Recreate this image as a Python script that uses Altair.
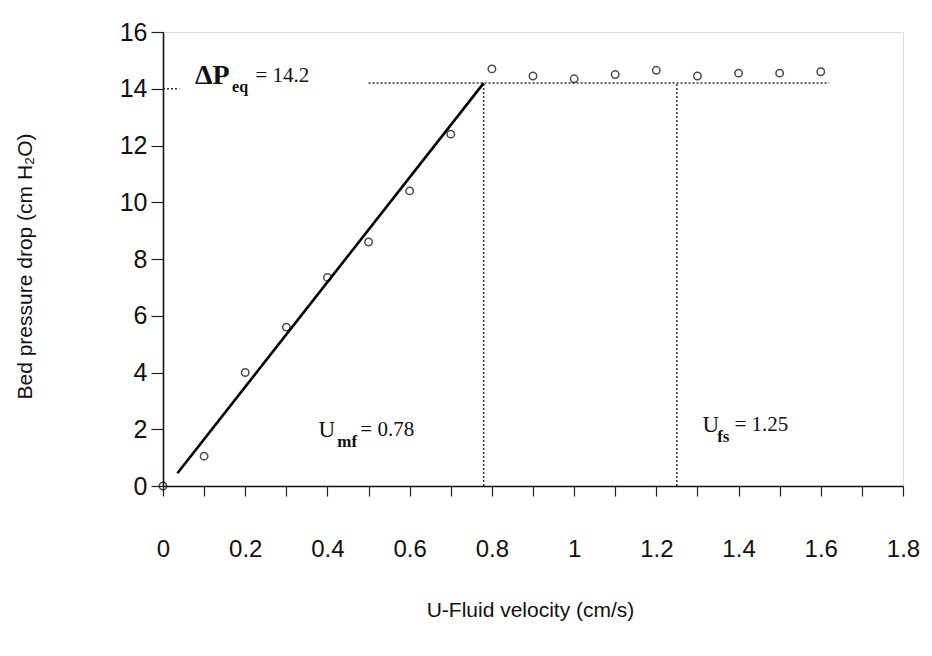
import altair as alt
import pandas as pd

# measured data points
u_vals = [0.0, 0.1, 0.2, 0.3, 0.4, 0.5, 0.6, 0.7, 0.8, 0.9, 1.0, 1.1, 1.2, 1.3, 1.4, 1.5, 1.6]
dp_vals = [0.0, 1.05, 4.0, 5.6, 7.35, 8.6, 10.4, 12.4, 14.7, 14.45, 14.35, 14.5, 14.65, 14.45, 14.55, 14.55, 14.6]

# fitted line for fixed bed
fit_u = [0.035, 0.78]
fit_dp = [0.45, 14.2]

# reference values
dp_eq = 14.2
u_mf = 0.78
u_fs = 1.25

x_ticks = [0, 0.1, 0.2, 0.3, 0.4, 0.5, 0.6, 0.7, 0.8, 0.9, 1.0, 1.1, 1.2, 1.3, 1.4, 1.5, 1.6, 1.7, 1.8]
y_ticks = [0, 2, 4, 6, 8, 10, 12, 14, 16]

# annotation pieces
ann_x = [0.078, 0.168, 0.225, 0.378, 0.424, 0.48, 1.312, 1.348, 1.39]
ann_y = [14.45, 14.05, 14.45, 1.97, 1.55, 1.97, 2.15, 1.72, 2.15]
ann_t = ["\u0394P", "eq", "= 14.2", "U", "mf", "= 0.78", "U", "fs", "= 1.25"]
ann_size = [28, 16, 21, 23, 17, 21, 23, 17, 21]
ann_bold = [True, True, False, False, True, False, False, True, False]

pts = pd.DataFrame({"u": u_vals, "dp": dp_vals})
fit = pd.DataFrame({"u": fit_u, "dp": fit_dp})
hlines = pd.DataFrame({"x1": [0.5, 0.0], "x2": [1.62, 0.04], "y": [dp_eq, 14.0]})
vlines = pd.DataFrame({"x": [u_mf, u_fs], "y1": [0, 0], "y2": [dp_eq, dp_eq]})
ann = pd.DataFrame({"x": ann_x, "y": ann_y, "t": ann_t, "fs": ann_size, "b": ann_bold})

xs = alt.Scale(domain=[0, 1.8], nice=False, zero=False)
ys = alt.Scale(domain=[0, 16], nice=False, zero=False)

x_axis = alt.Axis(
    values=x_ticks, grid=False, tickSize=10, tickColor="#222", tickWidth=1.2,
    domainColor="#111", domainWidth=1.6, format="~g",
    labelExpr="round(datum.value*10) % 2 == 0 ? datum.label : ''",
    labelFont="Liberation Sans", labelFontSize=24, labelColor="#111",
    labelPadding=41, labelFlush=False, labelOverlap=False,
    title="U-Fluid velocity (cm/s)", titleFont="Liberation Sans", titleFontSize=21,
    titleFontWeight="normal", titleColor="#111", titleX=367, titleY=124,
    titleBaseline="middle", titleAlign="center",
)
y_axis = alt.Axis(
    values=y_ticks, grid=False, tickSize=12, tickColor="#222", tickWidth=1.2,
    domainColor="#111", domainWidth=1.6,
    labelFont="Liberation Sans", labelFontSize=25, labelColor="#111",
    labelPadding=4, labelFlush=False,
    title="Bed pressure drop (cm H\u2082O)", titleFont="Liberation Sans", titleFontSize=21,
    titleFontWeight="normal", titleColor="#111", titleX=-138, titleY=234,
    titleAngle=-90, titleBaseline="middle", titleAlign="center",
)

points = alt.Chart(pts).mark_point(shape="circle", filled=False, color="black", size=55, strokeWidth=1.5).encode(
    x=alt.X("u:Q", scale=xs, axis=x_axis),
    y=alt.Y("dp:Q", scale=ys, axis=y_axis),
)

fit_line = alt.Chart(fit).mark_line(color="black", strokeWidth=2.6).encode(
    x=alt.X("u:Q", scale=xs), y=alt.Y("dp:Q", scale=ys)
)

h = alt.Chart(hlines).mark_rule(color="#333", strokeWidth=1.5, strokeDash=[2, 2]).encode(
    x=alt.X("x1:Q", scale=xs), x2="x2:Q", y=alt.Y("y:Q", scale=ys)
)
v = alt.Chart(vlines).mark_rule(color="#333", strokeWidth=1.5, strokeDash=[2, 2]).encode(
    x=alt.X("x:Q", scale=xs), y=alt.Y("y1:Q", scale=ys), y2="y2:Q"
)

def text_layer(bold):
    return alt.Chart(ann).transform_filter(
        "datum.b" if bold else "!datum.b"
    ).mark_text(
        align="left", baseline="middle", font="Liberation Serif", color="#111",
        fontWeight="bold" if bold else "normal",
    ).encode(
        x=alt.X("x:Q", scale=xs), y=alt.Y("y:Q", scale=ys), text="t:N",
        size=alt.Size("fs:Q", scale=None, legend=None),
    )

chart = alt.layer(h, v, fit_line, points, text_layer(True), text_layer(False)).properties(
    width=740, height=454,
    autosize=alt.AutoSizeParams(type="none"),
    padding={"left": 155, "top": 24, "right": 20, "bottom": 150},
).configure_view(stroke=None).configure(background="white")

chart.save("out.html", embed_options={"renderer": "svg", "actions": False})
